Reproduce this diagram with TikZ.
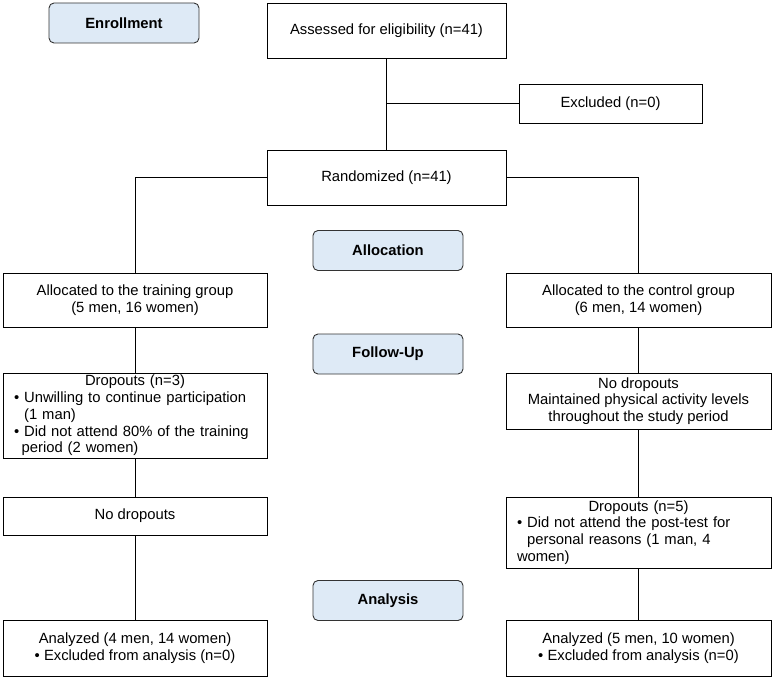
\documentclass[tikz,border=0pt]{standalone}
\usepackage{fontspec}
\setmainfont{Liberation Sans}
\definecolor{phaseBlue}{RGB}{222,234,246}

\begin{document}
\begin{tikzpicture}[x = 1pt, y = -1pt, line width = 0.9pt,
		every node/.style = {font = \fontsize{14.8}{16.7}\selectfont},
		box/.style = {draw, inner sep = 0pt, align = center},
		listbox/.style = {draw, inner ysep = 0pt, inner xsep = 11pt, align = left},
		phase/.style = {draw = black!80, fill = phaseBlue, rounded corners = 5pt,
			minimum width = 150pt, minimum height = 40pt, font = \fontsize{14.8}{16.7}\selectfont\bfseries}]
		\useasboundingbox (0, 0) rectangle (774, 682);
		%%%%%%%%%%%%%
		\node [phase] (enroll) at (124, 23) {Enrollment};
		\node [phase] (alloc) at (388, 250.5) {Allocation};
		\node [phase] (follow) at (388, 354) {Follow-Up};
		\node [phase] (analysis) at (388, 600.5) {Analysis};
		%%%%%%%%%%%%%
		\node [box, minimum width = 239pt, minimum height = 55pt] (assess) at (386.5, 30.5) {Assessed for eligibility (n=41)};
		\node [box, minimum width = 183pt, minimum height = 39pt] (excl) at (610.5, 103.5) {Excluded (n=0)};
		\node [box, minimum width = 239pt, minimum height = 55pt] (rand) at (386.5, 177.5) {Randomized (n=41)};
		\node [box, minimum width = 264pt, minimum height = 54pt] (train) at (135, 300) {Allocated to the training group\\(5 men, 16 women)};
		\node [box, minimum width = 265pt, minimum height = 54pt] (ctrl) at (638.5, 300) {Allocated to the control group\\(6 men, 14 women)};
		\node [listbox, text width = 242pt, minimum height = 85pt] (tdrop) at (135, 415.5)
			{\hfill Dropouts (n=3)\hfill\null\\
			• Unwilling to continue participation\\
			\hphantom{• }(1 man)\\
			• Did not attend 80\% of the training\\
			\hphantom{•\,}period (2 women)};
		\node [box, minimum width = 265pt, minimum height = 56pt] (cnodrop) at (638.5, 401) {No dropouts\\Maintained physical activity levels\\throughout the study period};
		\node [box, minimum width = 264pt, minimum height = 38pt] (tnodrop) at (135, 516) {No dropouts};
		\node [listbox, text width = 243pt, minimum height = 71pt] (cdrop) at (638.5, 532.5)
			{\hfill Dropouts (n=5)\hfill\null\\
			• Did not attend the post-test for\\
			\hphantom{• }personal reasons (1 man, 4\\
			women)};
		\node [box, minimum width = 264pt, minimum height = 56pt] (tanal) at (135, 648) {Analyzed (4 men, 14 women)\\• Excluded from analysis (n=0)};
		\node [box, minimum width = 265pt, minimum height = 56pt] (canal) at (638.5, 648) {Analyzed (5 men, 10 women)\\• Excluded from analysis (n=0)};
		%%%%%%%%%%%%%
		\draw (assess) to (rand);
		\draw (assess.south |- excl.west) to (excl.west);
		\draw (rand.west) -| (train.north); \draw (rand.east) -| (ctrl.north);
		\draw (train) to (tdrop); \draw (tdrop) to (tnodrop); \draw (tnodrop) to (tanal);
		\draw (ctrl) to (cnodrop); \draw (cnodrop) to (cdrop); \draw (cdrop) to (canal);
\end{tikzpicture}
\end{document}
